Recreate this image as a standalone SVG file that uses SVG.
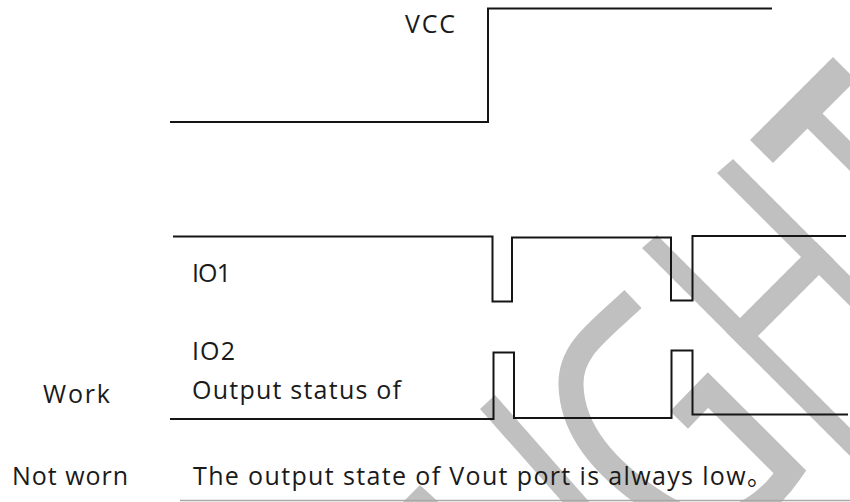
<svg xmlns="http://www.w3.org/2000/svg" width="850" height="502" viewBox="0 0 850 502">
<style>
.sig{fill:none;stroke:#151515;stroke-width:2;stroke-linejoin:miter}
.lbl{font-family:"Open Sans","Noto Sans CJK SC",sans-serif;font-size:25px;fill:#1a1a1a}
.wm{fill:#c0c0c0}
</style>
<rect x="0" y="0" width="850" height="502" fill="#ffffff"/>
<g id="watermark">
<polygon class="wm" points="750,140 833,57 856,80 773,163"/>
<polygon class="wm" points="807,128 822,113 910,201 895,216"/>
<polygon class="wm" points="717,173 733,159 910,336 894,350"/>
<polygon class="wm" points="816,242 834,260 744,350 726,332"/>
<polygon class="wm" points="642,248 657,235 910,488 895,501"/>
<polygon class="wm" points="480,409 495,395 592,505 565,505"/>
<polygon class="wm" points="420,485 446,509 420,535 394,511"/>
<path d="M633,299 C598,332 570,350 571,385 C572,430 605,470 660,505 C700,530 750,530 790,472 L708,390 L679,420" fill="none" stroke="#c0c0c0" stroke-width="25" stroke-linejoin="miter"/>
</g>
<g id="connectors">
<path id="vcc-wave" class="sig" d="M170,122 H488 V8.5 H772"/>
<path id="io1-wave" class="sig" d="M173,236.5 H492.5 V301.5 H512 V237.5 H671 V300.5 H692.5 V236 H846"/>
<path id="io2-wave" class="sig" d="M170,419 H493.5 V352.5 H514 V418 H671.5 V350.5 H692.5 V414.5 H848"/>
<line x1="180" y1="500.5" x2="850" y2="500.5" stroke="#a8a8a8" stroke-width="1.5"/>
</g>
<g id="vcc"><text class="lbl" x="405" y="33" textLength="50" lengthAdjust="spacing" font-size="23">VCC</text></g>
<g id="io1"><text class="lbl" x="192" y="282" textLength="39" lengthAdjust="spacing">IO1</text></g>
<g id="io2"><text class="lbl" x="192" y="360" textLength="43" lengthAdjust="spacing">IO2</text>
<text class="lbl" x="192" y="399" textLength="209" lengthAdjust="spacing">Output status of</text></g>
<g id="work"><text class="lbl" x="43" y="403" textLength="67" lengthAdjust="spacing">Work</text></g>
<g id="notworn"><text class="lbl" x="12" y="485" textLength="116" lengthAdjust="spacing">Not worn</text>
<text class="lbl" x="193" y="485" textLength="579" lengthAdjust="spacing">The output state of Vout port is always low。</text></g>
</svg>
